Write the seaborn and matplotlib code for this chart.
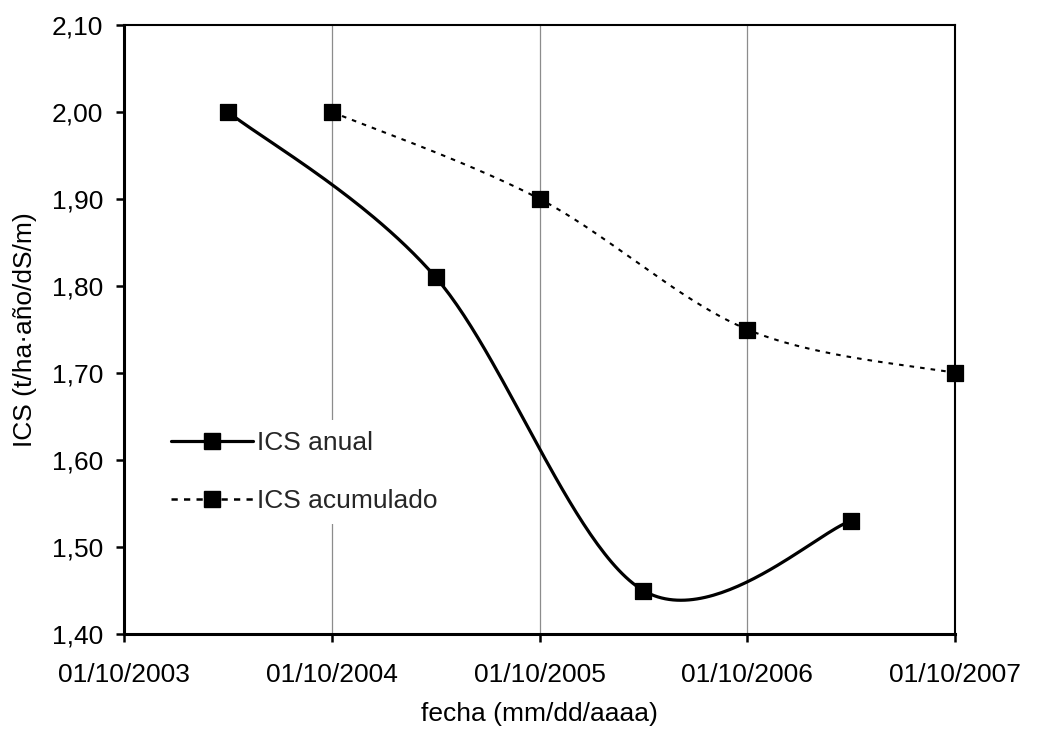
import numpy as np
import pandas as pd
import matplotlib
matplotlib.use("Agg")
import matplotlib.pyplot as plt
import matplotlib.dates as mdates
from matplotlib.lines import Line2D
from matplotlib.ticker import FuncFormatter
import seaborn as sns

# data
fechas_anual = ["2004-04-01", "2005-04-01", "2006-04-01", "2007-04-01"]
ics_anual = [2.00, 1.81, 1.45, 1.53]

fechas_acum = ["2004-10-01", "2005-10-01", "2006-10-01", "2007-10-01"]
ics_acum = [2.00, 1.90, 1.75, 1.70]

x_ticks = ["2003-10-01", "2004-10-01", "2005-10-01", "2006-10-01", "2007-10-01"]
y_ticks = [1.40, 1.50, 1.60, 1.70, 1.80, 1.90, 2.00, 2.10]

DOTTED = (0, (2.2, 2.9))


def smooth_curve(x, y, n=60):
    """Excel-like smoothed line (Bezier through the points, Catmull-Rom controls)."""
    x = np.asarray(x, float)
    y = np.asarray(y, float)
    # work in normalised units so both axes weigh the same
    sx = (x.max() - x.min()) or 1.0
    sy = 0.7 / (831 / 609)
    px, py = x / sx, y / sy
    xs, ys = [], []
    for i in range(len(x) - 1):
        p0 = np.array([px[max(i - 1, 0)], py[max(i - 1, 0)]])
        p1 = np.array([px[i], py[i]])
        p2 = np.array([px[i + 1], py[i + 1]])
        p3 = np.array([px[min(i + 2, len(x) - 1)], py[min(i + 2, len(x) - 1)]])
        c1 = p1 + (p2 - p0) / 6
        c2 = p2 - (p3 - p1) / 6
        t = np.linspace(0, 1, n)[:, None]
        b = ((1 - t) ** 3) * p1 + 3 * ((1 - t) ** 2) * t * c1 + 3 * (1 - t) * t ** 2 * c2 + t ** 3 * p2
        xs.extend(b[:, 0] * sx)
        ys.extend(b[:, 1] * sy)
    return np.array(xs), np.array(ys)


sns.set_style("white")
plt.rcParams['font.family'] = ['Liberation Sans', 'DejaVu Sans']

fig = plt.figure(figsize=(10.56, 7.31), dpi=100)
ax = fig.add_axes([124 / 1056, 1 - 634 / 731, (955 - 124) / 1056, (634 - 25) / 731])

xa = mdates.date2num(pd.to_datetime(fechas_anual))
xc = mdates.date2num(pd.to_datetime(fechas_acum))

sxa, sya = smooth_curve(xa, ics_anual)
sxc, syc = smooth_curve(xc, ics_acum)

sns.lineplot(x=sxa, y=sya, ax=ax, color="black", lw=2.3, sort=False, zorder=3)
sns.lineplot(x=sxc, y=syc, ax=ax, color="black", lw=1.5, sort=False, zorder=3,
             linestyle=DOTTED)
sns.scatterplot(x=xa, y=ics_anual, ax=ax, marker="s", s=130, color="black",
                edgecolor="black", zorder=4, clip_on=False)
sns.scatterplot(x=xc, y=ics_acum, ax=ax, marker="s", s=130, color="black",
                edgecolor="black", zorder=4, clip_on=False)

xt = mdates.date2num(pd.to_datetime(x_ticks))
ax.set_xlim(xt[0], xt[-1])
ax.set_ylim(1.40, 2.10)
ax.set_xticks(xt)
ax.set_xticklabels([pd.Timestamp(d).strftime("%d/%m/%Y") for d in x_ticks])
ax.set_yticks(y_ticks)
ax.yaxis.set_major_formatter(FuncFormatter(lambda v, p: f"{v:.2f}".replace(".", ",")))

ax.grid(axis="x", color="#8c8c8c", lw=0.9)
ax.grid(axis="y", visible=False)
ax.set_axisbelow(True)
for name, s in ax.spines.items():
    s.set_color("black")
    s.set_linewidth(2.2 if name in ("left", "bottom") else 1.5)
ax.tick_params(axis="both", direction="out", length=6, width=1.8, color="black",
               labelsize=19, labelcolor="black", bottom=True, left=True)
ax.tick_params(axis="y", pad=9)
ax.tick_params(axis="x", pad=15)

ax.set_xlabel("fecha (mm/dd/aaaa)", fontsize=19, labelpad=11, color="black")
ax.set_ylabel("ICS (t/ha·año/dS/m)", fontsize=19, labelpad=11, color="black")

handles = [
    Line2D([], [], color="black", lw=2.3, marker="s", markersize=11),
    Line2D([], [], color="black", lw=1.8, linestyle=(0, (2.5, 2.5)), marker="s", markersize=11),
]
leg = ax.legend(handles, ["ICS anual", "ICS acumulado"], loc="center left",
                bbox_to_anchor=(0.044, 0.266), frameon=True, framealpha=1,
                edgecolor="white", fontsize=19, handlelength=3.1, handletextpad=0.15,
                labelspacing=1.3, borderpad=0.4, borderaxespad=0)
leg.get_frame().set_linewidth(0)

fig.savefig("out.png", dpi=100)
